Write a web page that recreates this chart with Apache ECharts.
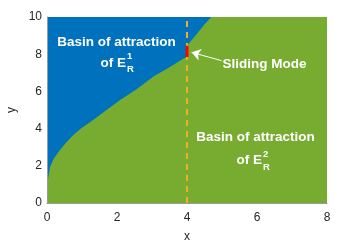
<!DOCTYPE html>
<html><head><meta charset="utf-8">
<script src="https://cdn.jsdelivr.net/npm/echarts@6/dist/echarts.min.js"></script>
<style>html,body{margin:0;padding:0;background:#fff}#c{width:360px;height:245px}</style>
</head><body><div id="c"></div>
<script>
// Boundary between the two basins (green below, blue above)
const boundaryX = [0, 0.03, 0.09, 0.2, 0.37, 0.55, 0.75, 1.0, 1.32, 1.7, 2.09, 2.56, 3.04, 3.5, 3.89, 4.0, 4.0, 4.05, 4.28, 4.51, 4.7, 8];
const boundaryY = [0.88, 1.3, 1.95, 2.4, 2.85, 3.25, 3.66, 4.05, 4.46, 5.0, 5.54, 6.11, 6.8, 7.3, 7.75, 7.85, 8.45, 8.46, 9.09, 9.62, 10, 10];
const xTicks = [0, 2, 4, 6, 8];
const yTicks = [0, 2, 4, 6, 8, 10];
const switchX = 4;
const slidingY = [7.85, 8.45];
const arrowFrom = [4.99, 7.65];
const arrowTo = [4.13, 8.1];

const font = "'Liberation Sans', Arial, Helvetica, sans-serif";
const chart = echarts.init(document.getElementById('c'));
const boundary = boundaryX.map((x, i) => [x, boundaryY[i]]);

const option = {
  animation: false,
  grid: { left: 47, right: 33, top: 17, bottom: 42, show: true, backgroundColor: '#0072BD', borderWidth: 0, outerBoundsMode: 'none', containLabel: false },
  xAxis: {
    type: 'value', min: xTicks[0], max: xTicks[xTicks.length - 1], interval: 2, z: 10,
    name: 'x', nameLocation: 'middle', nameGap: 28,
    nameTextStyle: { color: '#262626', fontSize: 12, fontFamily: font },
    axisLine: { lineStyle: { color: '#9a9a9a', width: 1 } },
    axisTick: { show: false }, splitLine: { show: false },
    axisLabel: { color: '#262626', fontSize: 12, fontFamily: font, margin: 9 }
  },
  yAxis: {
    type: 'value', min: yTicks[0], max: yTicks[yTicks.length - 1], interval: 2, z: 10,
    name: 'y', nameLocation: 'middle', nameGap: 23, nameRotate: 90,
    nameTextStyle: { color: '#262626', fontSize: 12, fontFamily: font },
    axisLine: { show: true, lineStyle: { color: '#9a9a9a', width: 1 } },
    axisTick: { show: false }, splitLine: { show: false },
    axisLabel: { color: '#262626', fontSize: 12, fontFamily: font, margin: 5 }
  },
  series: [
    {
      type: 'line', data: boundary, symbol: 'none', smooth: false,
      lineStyle: { width: 0, color: '#77AC30' },
      areaStyle: { color: '#77AC30', opacity: 1 }, z: 2
    },
    {
      type: 'line', data: [[switchX, yTicks[0]], [switchX, yTicks[yTicks.length - 1]]], symbol: 'none',
      lineStyle: { color: '#EDB120', width: 2, type: [6, 5] }, z: 3,
      markLine: {
        silent: true, symbol: ['none', 'arrow'], symbolSize: 9,
        lineStyle: { color: '#ffffff', width: 1, type: 'solid' }, label: { show: false },
        data: [[{ coord: arrowFrom }, { coord: arrowTo }]]
      }
    },
    {
      type: 'line', data: [[switchX, slidingY[0]], [switchX, slidingY[1]]], symbol: 'none',
      lineStyle: { color: '#FF0000', width: 3 }, z: 4
    }
  ],
  graphic: [
    { type: 'text', x: 116.5, y: 42, z: 100, style: { text: 'Basin of attraction', fill: '#fff', font: 'bold 13.5px ' + font, align: 'center', verticalAlign: 'middle' } },
    { type: 'text', x: 126, y: 63, z: 100, style: { text: 'of E', fill: '#fff', font: 'bold 13.5px ' + font, align: 'right', verticalAlign: 'middle' } },
    { type: 'text', x: 127, y: 56.5, z: 100, style: { text: '1', fill: '#fff', font: 'bold 9.5px ' + font, align: 'left', verticalAlign: 'middle' } },
    { type: 'text', x: 127, y: 69.5, z: 100, style: { text: 'R', fill: '#fff', font: 'bold 9.5px ' + font, align: 'left', verticalAlign: 'middle' } },
    { type: 'text', x: 264.5, y: 64, z: 100, style: { text: 'Sliding Mode', fill: '#fff', font: 'bold 13.5px ' + font, align: 'center', verticalAlign: 'middle' } },
    { type: 'text', x: 255.5, y: 137, z: 100, style: { text: 'Basin of attraction', fill: '#fff', font: 'bold 13.5px ' + font, align: 'center', verticalAlign: 'middle' } },
    { type: 'text', x: 262, y: 160.5, z: 100, style: { text: 'of E', fill: '#fff', font: 'bold 13.5px ' + font, align: 'right', verticalAlign: 'middle' } },
    { type: 'text', x: 263, y: 154.5, z: 100, style: { text: '2', fill: '#fff', font: 'bold 9.5px ' + font, align: 'left', verticalAlign: 'middle' } },
    { type: 'text', x: 263, y: 167, z: 100, style: { text: 'R', fill: '#fff', font: 'bold 9.5px ' + font, align: 'left', verticalAlign: 'middle' } }
  ]
};
chart.setOption(option);
</script></body></html>
